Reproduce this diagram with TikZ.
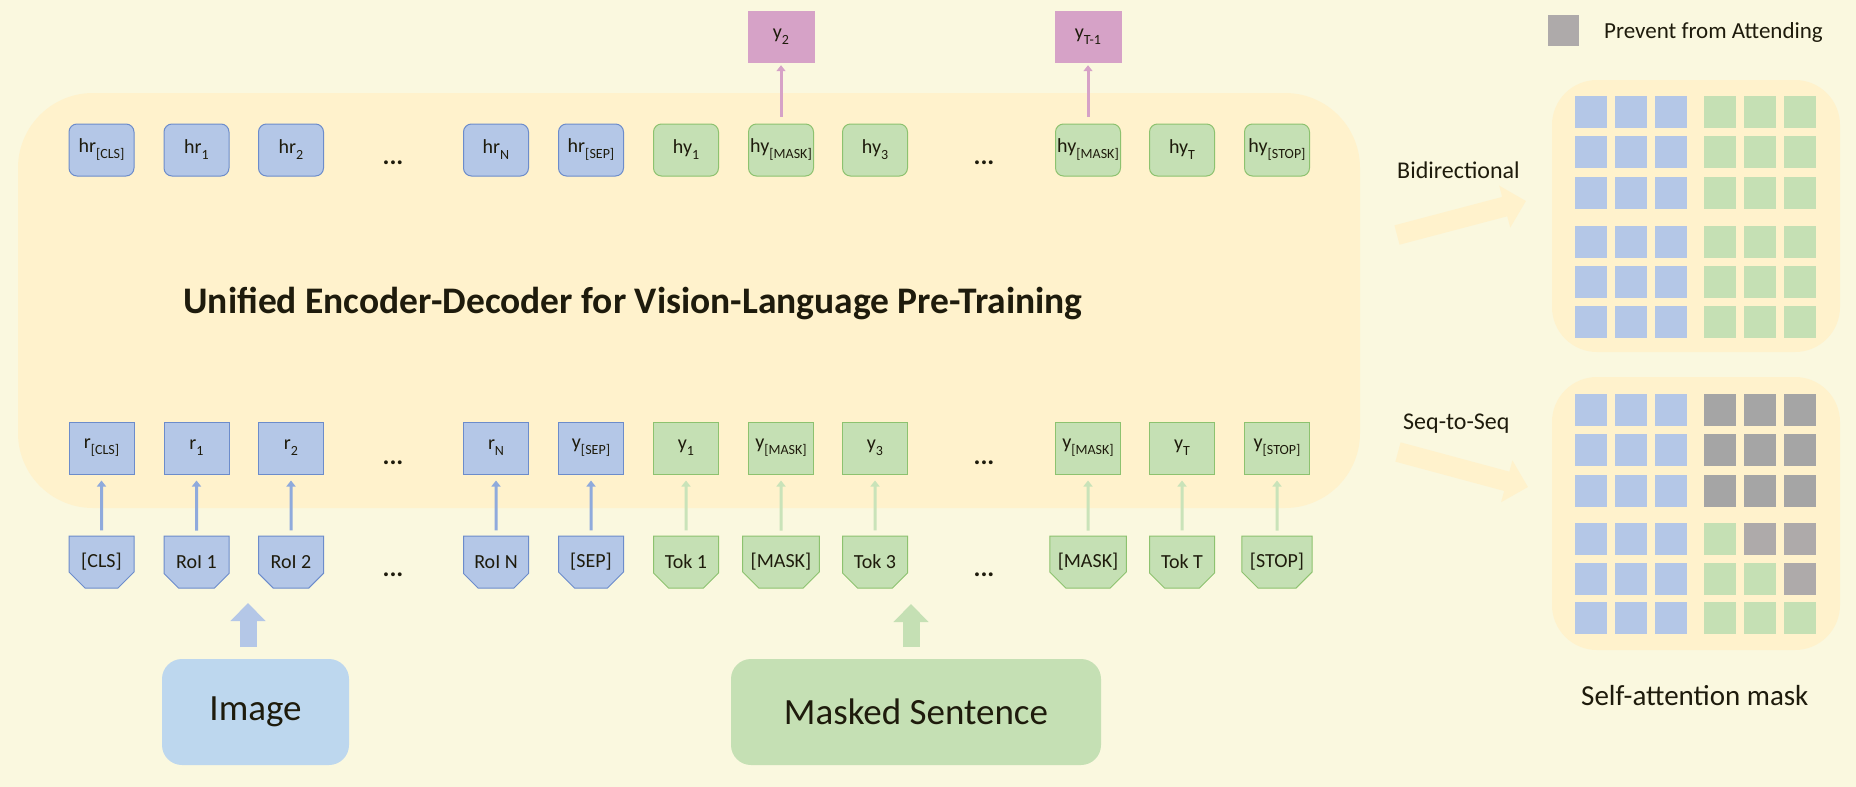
\documentclass[tikz,border=0pt]{standalone}
\usepackage{fontspec}
\setmainfont{Carlito}
\usetikzlibrary{shapes.misc,arrows.meta}

\definecolor{pagebg}{HTML}{FAF8DF}
\definecolor{bandbg}{HTML}{FFF2CC}
\definecolor{regfill}{HTML}{B4C7E7}
\definecolor{regline}{HTML}{6C8CCB}
\definecolor{txtfill}{HTML}{C5E0B4}
\definecolor{txtline}{HTML}{8DC26F}
\definecolor{predfill}{HTML}{D6A2C7}
\definecolor{imgfill}{HTML}{BDD7EE}
\definecolor{regarrow}{HTML}{8FAADC}
\definecolor{txtarrow}{HTML}{C9E3B9}
\definecolor{maskgray}{HTML}{A5A5A5}
\definecolor{leggray}{HTML}{AEAAAA}
\definecolor{inkc}{HTML}{1E1B0C}

\newcommand{\tsub}[1]{\raisebox{-0.3em}{\fontsize{14}{14}\selectfont #1}}

\begin{document}
\begin{tikzpicture}[x=1pt,y=-1pt,every node/.style={text=inkc}]
	\tikzstyle{hreg}=[draw=regline,fill=regfill,line width=1pt,rounded corners=8pt,minimum width=65pt,minimum height=52pt,inner sep=0pt,font=\fontsize{20}{24}\selectfont]
	\tikzstyle{htxt}=[hreg,draw=txtline,fill=txtfill]
	\tikzstyle{reg}=[hreg,sharp corners]
	\tikzstyle{txt}=[htxt,sharp corners]
	\tikzstyle{tok}=[chamfered rectangle,chamfered rectangle corners={south west,south east},chamfered rectangle xsep=8pt,chamfered rectangle ysep=8pt]
	\tikzstyle{pred}=[fill=predfill,minimum width=67pt,minimum height=52pt,inner sep=0pt,font=\fontsize{20}{24}\selectfont]
	\tikzstyle{dots}=[anchor=base,inner sep=0pt,font=\fontsize{26}{30}\selectfont\bfseries]
	\tikzstyle{regarr}=[draw=regarrow,line width=3pt,-{Triangle[length=6pt,width=9pt]},shorten <=5pt,shorten >=6pt]
	\tikzstyle{txtarr}=[regarr,draw=txtarrow]
	\tikzstyle{predarr}=[regarr,draw=predfill,shorten <=7pt,shorten >=2pt]
	\tikzstyle{block}=[line width=17pt,-{Triangle[length=18pt,width=34pt]}]
	\tikzstyle{slant}=[draw=bandbg,line width=20pt,-{Triangle[length=22pt,width=42pt]}]
	\tikzstyle{label}=[anchor=base west,inner sep=0pt,font=\fontsize{24}{28}\selectfont]

	\useasboundingbox (0,0) rectangle (1856,787);
	\fill[pagebg] (0,0) rectangle (1856,787);
	\fill[bandbg,rounded corners=75pt] (18,93) rectangle (1360,508);

	% hidden states
	\node[hreg](hr0) at (101.5,150){hr\tsub{[CLS]}};
	\node[hreg](hr1) at (196.5,150){hr\tsub{1}};
	\node[hreg](hr2) at (291,150){hr\tsub{2}};
	\node[dots](hrd) at (393,164){...};
	\node[hreg](hrn) at (496,150){hr\tsub{N}};
	\node[hreg](hrs) at (591,150){hr\tsub{[SEP]}};
	\node[htxt](hy1) at (686,150){hy\tsub{1}};
	\node[htxt](hym) at (781,150){hy\tsub{[MASK]}};
	\node[htxt](hy3) at (875,150){hy\tsub{3}};
	\node[dots](hyd) at (984,164){...};
	\node[htxt](hym2) at (1088,150){hy\tsub{[MASK]}};
	\node[htxt](hyt) at (1182,150){hy\tsub{T}};
	\node[htxt](hys) at (1277,150){hy\tsub{[STOP]}};

	% predictions
	\node[pred](p2) at (781,37){y\tsub{2}};
	\node[pred](pt) at (1088,37){y\tsub{T-1}};

	\node[font=\fontsize{37.5}{42}\selectfont\bfseries](title) at (633,303){Unified Encoder-Decoder for Vision-Language Pre-Training};

	% inputs
	\node[reg](r0) at (101.5,448){r\tsub{[CLS]}};
	\node[reg](r1) at (196.5,448){r\tsub{1}};
	\node[reg](r2) at (291,448){r\tsub{2}};
	\node[dots](rd) at (393,464){...};
	\node[reg](rn) at (496,448){r\tsub{N}};
	\node[reg](rs) at (591,448){y\tsub{[SEP]}};
	\node[txt](y1) at (686,448){y\tsub{1}};
	\node[txt](ym) at (781,448){y\tsub{[MASK]}};
	\node[txt](y3) at (875,448){y\tsub{3}};
	\node[dots](yd) at (984,464){...};
	\node[txt](ym2) at (1088,448){y\tsub{[MASK]}};
	\node[txt](yt) at (1182,448){y\tsub{T}};
	\node[txt](ys) at (1277,448){y\tsub{[STOP]}};

	% tokens
	\node[reg,tok](t0) at (101.5,562){[CLS]};
	\node[reg,tok](t1) at (196.5,562){RoI 1};
	\node[reg,tok](t2) at (291,562){RoI 2};
	\node[dots](td) at (393,576){...};
	\node[reg,tok](tn) at (496,562){RoI N};
	\node[reg,tok](ts) at (591,562){[SEP]};
	\node[txt,tok](w1) at (686,562){Tok 1};
	\node[txt,tok](wm) at (781,562){[MASK]};
	\node[txt,tok](w3) at (875,562){Tok 3};
	\node[dots](wd) at (984,576){...};
	\node[txt,tok](wm2) at (1088,562){[MASK]};
	\node[txt,tok](wt) at (1182,562){Tok T};
	\node[txt,tok](ws) at (1277,562){[STOP]};

	\node[fill=imgfill,rounded corners=20pt,minimum width=187pt,minimum height=106pt,font=\fontsize{37}{40}\selectfont](img) at (255.5,712){Image};
	\node[fill=txtfill,rounded corners=20pt,minimum width=370pt,minimum height=106pt,font=\fontsize{37}{40}\selectfont](sent) at (916,712){Masked Sentence};

	\draw[regarr] (t0) -- (r0);
	\draw[regarr] (t1) -- (r1);
	\draw[regarr] (t2) -- (r2);
	\draw[regarr] (tn) -- (rn);
	\draw[regarr] (ts) -- (rs);
	\draw[txtarr] (w1) -- (y1);
	\draw[txtarr] (wm) -- (ym);
	\draw[txtarr] (w3) -- (y3);
	\draw[txtarr] (wm2) -- (ym2);
	\draw[txtarr] (wt) -- (yt);
	\draw[txtarr] (ws) -- (ys);

	\draw[predarr] (hym) -- (p2);
	\draw[predarr] (hym2) -- (pt);

	\coordinate (ia0) at (248,647);
	\coordinate (ia1) at (248,603);
	\coordinate (sa0) at (911,647);
	\coordinate (sa1) at (911,604);
	\draw[block,regfill] (ia0) -- (ia1);
	\draw[block,txtfill] (sa0) -- (sa1);

	% attention masks
	\node[fill=leggray,minimum size=31pt,inner sep=0pt](leg) at (1563.5,30){};
	\node[label,font=\fontsize{23}{27}\selectfont](legtxt) at (1604,38){Prevent from Attending};

	\node[label](bi) at (1397,178){Bidirectional};
	\node[label](s2s) at (1403,429){Seq-to-Seq};
	\coordinate (bi0) at (1397,235);
	\coordinate (bi1) at (1526,201);
	\coordinate (s2s0) at (1398,452);
	\coordinate (s2s1) at (1528,487);
	\draw[slant] (bi0) -- (bi1);
	\draw[slant] (s2s0) -- (s2s1);

	\fill[bandbg,rounded corners=45pt] (1552,80) rectangle (1840,352);
	\fill[bandbg,rounded corners=45pt] (1552,377) rectangle (1840,650);
	\foreach \cx in {1575,1615,1655}
		\foreach \cy in {96,136,177,226,266,306,394,434,475,523,563,602}
			\fill[regfill] (\cx,\cy) rectangle ++(32,32);
	\foreach \cx in {1704,1744,1784}
		\foreach \cy in {96,136,177,226,266,306,523,563,602}
			\fill[txtfill] (\cx,\cy) rectangle ++(32,32);
	\foreach \cx in {1704,1744,1784}
		\foreach \cy in {394,434,475}
			\fill[maskgray] (\cx,\cy) rectangle ++(32,32);
	\fill[leggray] (1744,523) rectangle ++(32,32);
	\fill[leggray] (1784,523) rectangle ++(32,32);
	\fill[leggray] (1784,563) rectangle ++(32,32);

	\node[label,font=\fontsize{29}{33}\selectfont](caption) at (1581,705){Self-attention mask};
\end{tikzpicture}
\end{document}
